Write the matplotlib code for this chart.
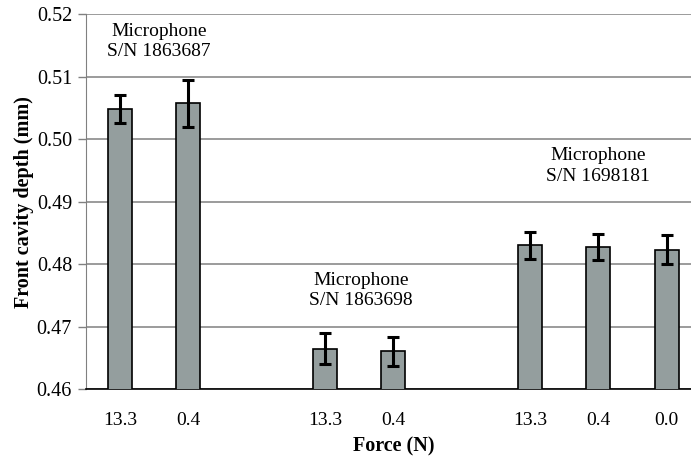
import matplotlib
matplotlib.use("Agg")
import matplotlib.pyplot as plt

# slot positions on the category axis (2 and 5 are empty gaps)
slots = [0, 1, 3, 4, 6, 7, 8]
force_labels = ["13.3", "0.4", "13.3", "0.4", "13.3", "0.4", "0.0"]
depth = [0.5048, 0.5057, 0.4665, 0.4661, 0.4830, 0.4828, 0.4823]
err = [0.0023, 0.0037, 0.0025, 0.0023, 0.0021, 0.0021, 0.0023]

mic_names = ["Microphone\nS/N 1863687", "Microphone\nS/N 1863698", "Microphone\nS/N 1698181"]
mic_label_x = [0.57, 3.53, 7.0]
mic_label_y = [0.5156, 0.4758, 0.4957]

plt.rcParams["font.family"] = ["Liberation Serif", "DejaVu Serif"]

fig = plt.figure(figsize=(6.91, 4.62), dpi=100)
ax = fig.add_axes([86 / 691, 72.7 / 462, (700.7 - 86) / 691, 375.3 / 462])

ax.bar(slots, depth, width=0.35, color="#949e9e", edgecolor="black", linewidth=1.2, zorder=3)
ax.errorbar(slots, depth, yerr=err, fmt="none", ecolor="black", elinewidth=2.2,
            capsize=4.5, capthick=2.2, zorder=4)

for name, tx, ty in zip(mic_names, mic_label_x, mic_label_y):
    ax.text(tx, ty, name, ha="center", va="center", fontsize=14, linespacing=1.3)

ax.set_xlim(-0.5, 8.5)
ax.set_ylim(0.46, 0.52)
ax.set_yticks([0.46, 0.47, 0.48, 0.49, 0.50, 0.51, 0.52])
ax.set_yticklabels(["0.46", "0.47", "0.48", "0.49", "0.50", "0.51", "0.52"])
ax.set_xticks(slots)
ax.set_xticklabels(force_labels)
ax.tick_params(axis="y", labelsize=14.5, length=6, width=1, color="#808080", pad=4)
ax.tick_params(axis="x", labelsize=14, length=0, pad=16)

ax.yaxis.grid(True, color="#8a8a8a", linewidth=1.2, zorder=0)
ax.set_axisbelow(True)
for side in ["top", "right"]:
    ax.spines[side].set_visible(False)
ax.spines["left"].set_color("#808080")
ax.spines["bottom"].set_color("black")
ax.spines["bottom"].set_linewidth(1.2)

ax.set_xlabel("Force (N)", fontsize=14.5, fontweight="bold", labelpad=6)
ax.set_ylabel("Front cavity depth (mm)", fontsize=14.5, fontweight="bold", labelpad=2)

fig.savefig("out.png", dpi=100)
